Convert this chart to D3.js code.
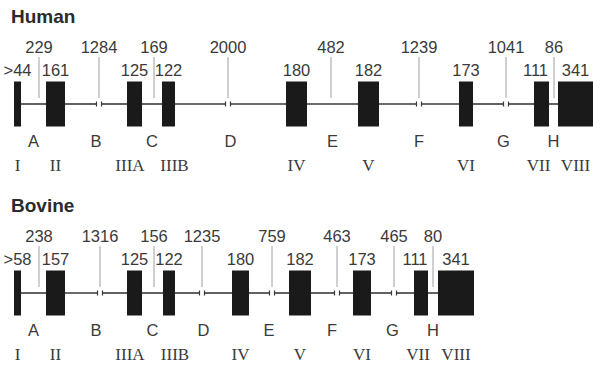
<!DOCTYPE html>
<html>
<head>
<meta charset="utf-8">
<script src="https://cdn.jsdelivr.net/npm/d3@7"></script>
<style>
  body { margin: 0; background: #fff; }
</style>
</head>
<body>
<div id="chart"></div>
<script>
// ----------------------
// Gene structure data
// ----------------------
const species = ["Human", "Bovine"];
const exonNames = ["I", "II", "IIIA", "IIIB", "IV", "V", "VI", "VII", "VIII"];
const intronNames = ["A", "B", "C", "D", "E", "F", "G", "H"];

// exon / intron sizes (bp), as printed
const humanExonBp = [">44", "161", "125", "122", "180", "182", "173", "111", "341"];
const humanIntronBp = ["229", "1284", "169", "2000", "482", "1239", "1041", "86"];
const bovineExonBp = [">58", "157", "125", "122", "180", "182", "173", "111", "341"];
const bovineIntronBp = ["238", "1316", "156", "1235", "759", "463", "465", "80"];

// schematic map coordinates (drawing units along the gene)
const humanExonStart = [0, 320, 1130, 1480, 2720, 3440, 4450, 5200, 5440];
const humanExonEnd = [70, 510, 1280, 1610, 2930, 3650, 4590, 5350, 5800];
const humanIntronSite = [250, 850, 1400, 2140, 3170, 4050, 4920, 5400];
const humanIntronBroken = [false, true, false, true, false, true, true, false];

const bovineExonStart = [0, 320, 1130, 1490, 2180, 2750, 3390, 4000, 4240];
const bovineExonEnd = [70, 510, 1280, 1610, 2350, 2970, 3570, 4140, 4600];
const bovineIntronSite = [250, 860, 1400, 1880, 2580, 3230, 3800, 4190];
const bovineIntronBroken = [false, true, false, true, true, true, true, false];

// ----------------------
// Setup
// ----------------------
const width = 593, height = 365;

const svg = d3.select("#chart")
    .append("svg")
    .attr("width", width)
    .attr("height", height);

const x = d3.scaleLinear()
    .domain([0, 5790])
    .range([14, 593]);

// baseline (intron line) of each panel
const y = d3.scalePoint()
    .domain(species)
    .range([104, 293]);

const sans = "'Liberation Sans', Arial, Helvetica, sans-serif";
const serif = "'Liberation Serif', 'Times New Roman', serif";

// small label nudges to keep neighbouring labels apart
const romanNudge = { "IIIA": -4.5, "IIIB": 6, "VII": -3 };
const sizeNudge = { "VII": -6 };

const genes = [
    { name: "Human", exonBp: humanExonBp, intronBp: humanIntronBp,
      start: humanExonStart, end: humanExonEnd, site: humanIntronSite, broken: humanIntronBroken },
    { name: "Bovine", exonBp: bovineExonBp, intronBp: bovineIntronBp,
      start: bovineExonStart, end: bovineExonEnd, site: bovineIntronSite, broken: bovineIntronBroken }
];

genes.forEach(gene => drawGene(gene));

function drawGene(gene) {
    const g = svg.append("g")
        .attr("transform", `translate(0, ${y(gene.name)})`);

    const exons = exonNames.map((n, i) => ({
        name: n, bp: gene.exonBp[i], x0: x(gene.start[i]), x1: x(gene.end[i])
    }));
    const introns = intronNames.map((n, i) => ({
        name: n, bp: gene.intronBp[i], site: x(gene.site[i]),
        x0: exons[i].x1, x1: exons[i + 1].x0, broken: gene.broken[i]
    }));

    // title
    g.append("text")
        .attr("x", 11)
        .attr("y", -81)
        .attr("font-family", sans)
        .attr("font-weight", "bold")
        .attr("font-size", 19)
        .attr("fill", "#2b2b2b")
        .text(gene.name);

    // intron line, split where the intron is broken
    const segs = [];
    introns.forEach(d => {
        if (d.broken) {
            segs.push([d.x0, d.site - 2.5, "r"]);
            segs.push([d.site + 2.5, d.x1, "l"]);
        } else {
            segs.push([d.x0, d.x1, ""]);
        }
    });

    g.selectAll(".seg")
        .data(segs)
        .enter()
        .append("line")
        .attr("x1", d => d[0])
        .attr("x2", d => d[1])
        .attr("y1", 0)
        .attr("y2", 0)
        .attr("stroke", "#3a3a3a")
        .attr("stroke-width", 1.6);

    // end ticks at the breaks
    const ticks = [];
    introns.filter(d => d.broken).forEach(d => {
        ticks.push(d.site - 2.5, d.site + 2.5);
    });
    g.selectAll(".tick")
        .data(ticks)
        .enter()
        .append("line")
        .attr("x1", d => d)
        .attr("x2", d => d)
        .attr("y1", -2.5)
        .attr("y2", 2.5)
        .attr("stroke", "#3a3a3a")
        .attr("stroke-width", 1.2);

    // exon boxes
    g.selectAll(".exon")
        .data(exons)
        .enter()
        .append("rect")
        .attr("x", d => d.x0)
        .attr("width", d => d.x1 - d.x0)
        .attr("y", -22.5)
        .attr("height", 45)
        .attr("fill", "#1a1a1a");

    // intron pointer lines
    g.selectAll(".pointer")
        .data(introns)
        .enter()
        .append("line")
        .attr("x1", d => d.site)
        .attr("x2", d => d.site)
        .attr("y1", -47)
        .attr("y2", -6)
        .attr("stroke", "#a0a0a0")
        .attr("stroke-width", 1);

    // intron sizes
    g.selectAll(".intronBp")
        .data(introns)
        .enter()
        .append("text")
        .attr("x", d => d.site)
        .attr("y", -51)
        .attr("text-anchor", "middle")
        .attr("font-family", sans)
        .attr("font-size", 16.5)
        .attr("fill", "#3a3a3a")
        .text(d => d.bp);

    // exon sizes
    g.selectAll(".exonBp")
        .data(exons)
        .enter()
        .append("text")
        .attr("x", d => (d.x0 + Math.min(d.x1, width)) / 2 + (sizeNudge[d.name] || 0))
        .attr("y", -28)
        .attr("text-anchor", "middle")
        .attr("font-family", sans)
        .attr("font-size", 16.5)
        .attr("fill", "#3a3a3a")
        .text(d => d.bp);

    // intron letters
    g.selectAll(".intronName")
        .data(introns)
        .enter()
        .append("text")
        .attr("x", d => (d.x0 + d.x1) / 2)
        .attr("y", 43)
        .attr("text-anchor", "middle")
        .attr("font-family", sans)
        .attr("font-size", 16.5)
        .attr("fill", "#3a3a3a")
        .text(d => d.name);

    // exon numerals
    g.selectAll(".exonName")
        .data(exons)
        .enter()
        .append("text")
        .attr("x", d => (d.x0 + Math.min(d.x1, width)) / 2 + (romanNudge[d.name] || 0))
        .attr("y", 67)
        .attr("text-anchor", "middle")
        .attr("font-family", serif)
        .attr("font-size", 17)
        .attr("fill", "#3a3a3a")
        .text(d => d.name);
}
</script>
</body>
</html>
